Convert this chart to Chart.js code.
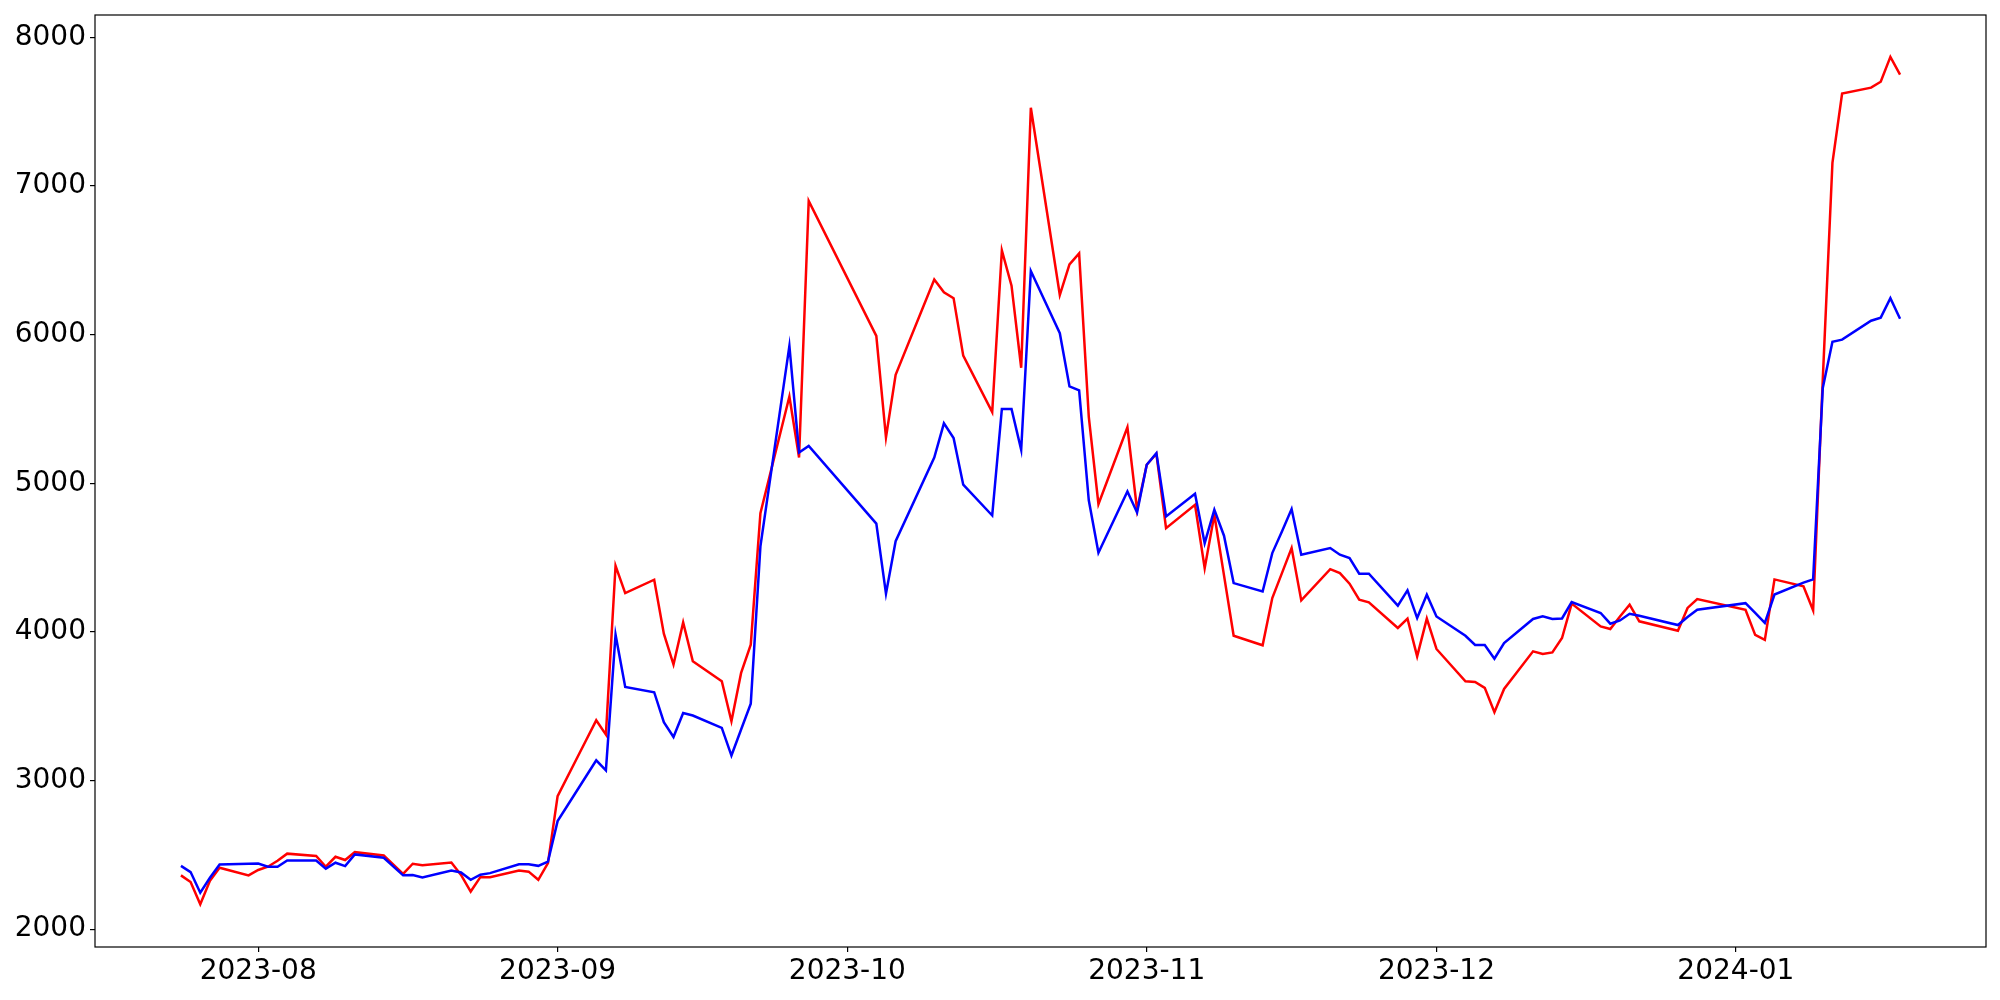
<!DOCTYPE html>
<html>
<head>
<meta charset="utf-8">
<script src="https://cdn.jsdelivr.net/npm/chart.js@4.4.0/dist/chart.umd.min.js"></script>
<style>
  html, body { margin: 0; padding: 0; background: #fff; }
  #chart { display: block; }
</style>
</head>
<body>
<canvas id="chart" width="2000" height="1000"></canvas>
<script>
// trading days (x) and the two series (y)
const dates = [
  '2023-07-24','2023-07-25','2023-07-26','2023-07-27','2023-07-28','2023-07-31',
  '2023-08-01','2023-08-02','2023-08-03','2023-08-04','2023-08-07','2023-08-08','2023-08-09','2023-08-10','2023-08-11',
  '2023-08-14','2023-08-16','2023-08-17','2023-08-18','2023-08-21','2023-08-22','2023-08-23','2023-08-24','2023-08-25',
  '2023-08-28','2023-08-29','2023-08-30','2023-08-31',
  '2023-09-01','2023-09-04','2023-09-05','2023-09-06','2023-09-07','2023-09-08','2023-09-11','2023-09-12','2023-09-13',
  '2023-09-14','2023-09-15','2023-09-18','2023-09-19','2023-09-20','2023-09-21','2023-09-22','2023-09-25','2023-09-26','2023-09-27',
  '2023-10-04','2023-10-05','2023-10-06','2023-10-10','2023-10-11','2023-10-12','2023-10-13','2023-10-16','2023-10-17',
  '2023-10-18','2023-10-19','2023-10-20','2023-10-23','2023-10-24','2023-10-25','2023-10-26','2023-10-27','2023-10-30','2023-10-31',
  '2023-11-01','2023-11-02','2023-11-03','2023-11-06','2023-11-07','2023-11-08','2023-11-09','2023-11-10','2023-11-13',
  '2023-11-14','2023-11-15','2023-11-16','2023-11-17','2023-11-20','2023-11-21','2023-11-22','2023-11-23','2023-11-24',
  '2023-11-27','2023-11-28','2023-11-29','2023-11-30',
  '2023-12-01','2023-12-04','2023-12-05','2023-12-06','2023-12-07','2023-12-08','2023-12-11','2023-12-12','2023-12-13',
  '2023-12-14','2023-12-15','2023-12-18','2023-12-19','2023-12-20','2023-12-21','2023-12-22','2023-12-26','2023-12-27','2023-12-28',
  '2024-01-02','2024-01-03','2024-01-04','2024-01-05','2024-01-08','2024-01-09','2024-01-10','2024-01-11','2024-01-12',
  '2024-01-15','2024-01-16','2024-01-17','2024-01-18'
];

const redValues = [
  2362, 2317, 2167, 2325, 2413, 2362,
  2398, 2420, 2460, 2508, 2492, 2420, 2487, 2465, 2518,
  2496, 2372, 2440, 2430, 2448, 2365, 2253, 2350, 2350,
  2394, 2387, 2332, 2444,
  2895, 3278, 3405, 3309, 4445, 4261, 4351, 3988, 3780,
  4064, 3802, 3668, 3399, 3724, 3914, 4799, 5583, 5173, 6899,
  5991, 5308, 5730, 6370, 6284, 6245, 5858, 5479, 6567,
  6329, 5777, 7526, 6266, 6472, 6546, 5447, 4859, 5377, 4821,
  5124, 5198, 4698, 4855, 4429, 4788, 4380, 3974, 3910,
  4228, 4395, 4564, 4212, 4422, 4395, 4324, 4216, 4199,
  4026, 4089, 3835, 4089,
  3885, 3668, 3663, 3623, 3459, 3616, 3869, 3851, 3862,
  3959, 4190, 4037, 4019, 4104, 4183, 4071, 4008, 4161, 4221,
  4148, 3980, 3946, 4353, 4307, 4145, 5700, 7156, 7621,
  7661, 7701, 7868, 7749
];

const blueValues = [
  2426, 2384, 2245, 2346, 2435, 2440,
  2442, 2420, 2420, 2462, 2462, 2407, 2447, 2424, 2503,
  2480, 2362, 2364, 2348, 2394, 2381, 2332, 2366, 2377,
  2437, 2437, 2426, 2455,
  2727, 3034, 3136, 3069, 3981, 3629, 3594, 3392, 3293,
  3454, 3437, 3354, 3168, 3343, 3517, 4575, 5924, 5207, 5251,
  4728, 4257, 4610, 5173, 5403, 5304, 4990, 4783, 5500,
  5500, 5225, 6428, 6009, 5651, 5625, 4885, 4532, 4944, 4803,
  5124, 5202, 4776, 4929, 4597, 4821, 4647, 4328, 4272,
  4530, 4676, 4826, 4519, 4564, 4519, 4496, 4391, 4391,
  4176, 4279, 4093, 4250,
  4104, 3974, 3912, 3912, 3820, 3925, 4087, 4104, 4087,
  4090, 4201, 4127, 4055, 4077, 4122, 4109, 4046, 4100, 4149,
  4193, 4127, 4060, 4251, 4331, 4353, 5641, 5952, 5966,
  6093, 6114, 6245, 6106
];

const monthTicks = ['2023-08', '2023-09', '2023-10', '2023-11', '2023-12', '2024-01'];
const yTicks = [2000, 3000, 4000, 5000, 6000, 7000, 8000];
const yMin = 1880;
const yMax = 8150;

// dates -> day numbers so the x axis is a plain linear scale
const toDay = s => {
  const [y, m, d] = s.split('-').map(Number);
  return Date.UTC(y, m - 1, d || 1) / 86400000;
};
const fmtMonth = v => {
  const dt = new Date(v * 86400000);
  return dt.getUTCFullYear() + '-' + String(dt.getUTCMonth() + 1).padStart(2, '0');
};

const days = dates.map(toDay);
const span = days[days.length - 1] - days[0];
const xMin = days[0] - 0.05 * span;
const xMax = days[days.length - 1] + 0.05 * span;

const tickFont = { family: 'DejaVu Sans', size: 28 };

// box around the plot like matplotlib spines
const frame = {
  id: 'frame',
  afterDraw(chart) {
    const { ctx, chartArea: a } = chart;
    ctx.save();
    ctx.strokeStyle = '#000';
    ctx.lineWidth = 1.2;
    ctx.strokeRect(a.left, a.top, a.right - a.left, a.bottom - a.top);
    ctx.restore();
  }
};

new Chart(document.getElementById('chart'), {
  type: 'line',
  data: {
    datasets: [
      {
        data: days.map((x, i) => ({ x, y: redValues[i] })),
        borderColor: '#ff0000',
        borderWidth: 2.5,
        order: 1,
      },
      {
        data: days.map((x, i) => ({ x, y: blueValues[i] })),
        borderColor: '#0000ff',
        borderWidth: 2.5,
        order: 0,
      },
    ],
  },
  options: {
    responsive: false,
    animation: false,
    devicePixelRatio: 1,
    layout: { padding: { left: 0, top: 15, right: 14, bottom: 0 } },
    elements: { point: { radius: 0 }, line: { tension: 0 } },
    plugins: { legend: { display: false }, tooltip: { enabled: false } },
    scales: {
      x: {
        type: 'linear',
        min: xMin,
        max: xMax,
        afterBuildTicks: s => { s.ticks = monthTicks.map(m => ({ value: toDay(m) })); },
        afterFit: s => { s.height = 53; s.paddingLeft = 0; s.paddingRight = 0; },
        border: { display: false },
        grid: { drawOnChartArea: false, tickLength: 5, tickColor: '#000', lineWidth: 1.2 },
        ticks: {
          autoSkip: false,
          maxRotation: 0,
          padding: 3,
          color: '#000',
          font: tickFont,
          callback: v => fmtMonth(v),
        },
      },
      y: {
        min: yMin,
        max: yMax,
        afterBuildTicks: s => { s.ticks = yTicks.map(v => ({ value: v })); },
        afterFit: s => { s.width = 95; s.paddingTop = 0; s.paddingBottom = 0; },
        border: { display: false },
        grid: { drawOnChartArea: false, tickLength: 5, tickColor: '#000', lineWidth: 1.2 },
        ticks: {
          padding: 4,
          color: '#000',
          font: tickFont,
          callback: v => String(v),
        },
      },
    },
  },
  plugins: [frame],
});
</script>
</body>
</html>
